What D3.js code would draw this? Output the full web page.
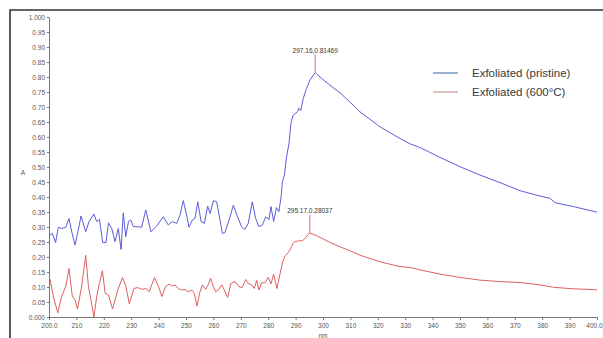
<!DOCTYPE html>
<html>
<head>
<meta charset="utf-8">
<script src="https://cdn.jsdelivr.net/npm/d3@7"></script>
<style>
  body { margin: 0; background: #fff; }
  svg { display: block; }
</style>
</head>
<body>
<div id="chart"></div>
<script>
// wavelength (nm), absorbance (A)
const pristine = [
  [200.0, .270], [200.4, .273], [201.2, .279], [202.4, .248], [203.4, .299], [204.6, .295], [206.1, .299],
  [207.3, .328], [208.3, .284], [209.5, .240], [210.7, .290], [211.7, .337], [213.4, .284], [214.6, .318],
  [216.4, .343], [217.4, .318], [218.4, .326], [219.6, .248], [220.8, .248], [221.7, .314], [222.9, .295],
  [224.1, .251], [225.3, .295], [226.3, .225], [227.1, .347], [228.0, .268], [229.0, .318], [229.9, .323],
  [230.8, .301], [232.4, .301], [233.8, .299], [235.3, .357], [237.2, .284], [239.3, .303], [241.7, .334],
  [243.5, .307], [245.0, .318], [246.6, .312], [247.8, .340], [249.0, .388], [250.2, .340], [251.1, .299],
  [252.3, .323], [253.3, .329], [254.3, .384], [255.5, .318], [256.7, .312], [257.9, .370], [258.8, .345],
  [260.0, .388], [261.2, .384], [262.4, .323], [263.3, .279], [264.2, .281], [265.7, .323], [267.3, .373],
  [268.8, .334], [270.3, .301], [271.5, .292], [272.7, .312], [274.2, .384], [275.4, .329], [276.6, .301],
  [277.9, .307], [279.1, .334], [280.3, .325], [281.0, .368], [282.0, .318], [283.0, .365], [283.9, .351],
  [284.7, .400], [285.2, .451], [285.9, .473], [286.7, .534], [287.6, .579], [288.3, .646], [289.1, .673],
  [290.0, .679], [290.7, .684], [291.2, .696], [291.9, .688], [292.8, .729], [294.0, .762], [295.3, .790],
  [296.5, .807], [297.16, .81469], [299.4, .796], [302.5, .773], [306.5, .745], [311.6, .701], [313.5, .684],
  [320.8, .634], [328.1, .595], [331.8, .577], [335.4, .565], [342.7, .532], [350.0, .501], [357.3, .473],
  [364.6, .448], [371.9, .421], [379.2, .403], [382.8, .396], [384.7, .381], [391.4, .368], [399.3, .351],
  [400.0, .350]
];

const annealed = [
  [200.0, .130], [200.4, .126], [201.6, .068], [203.2, .014], [204.6, .068], [206.1, .101], [207.3, .162],
  [208.5, .070], [209.5, .057], [210.4, .027], [211.9, .101], [213.4, .206], [214.4, .101], [215.3, .057],
  [216.4, .000], [217.4, .068], [218.4, .112], [219.5, .154], [220.5, .079], [221.7, .073], [223.2, .027],
  [225.1, .090], [226.8, .132], [228.0, .105], [229.3, .044], [231.0, .095], [232.4, .098], [234.0, .092],
  [235.5, .095], [236.6, .084], [238.5, .132], [240.0, .101], [241.2, .068], [242.5, .101], [243.8, .110],
  [244.8, .103], [246.0, .107], [247.2, .095], [248.4, .090], [249.6, .092], [250.8, .084], [252.1, .090],
  [253.0, .079], [254.0, .036], [255.1, .084], [256.0, .107], [257.2, .092], [258.2, .109], [259.0, .129],
  [260.0, .101], [260.8, .084], [261.8, .090], [263.0, .107], [264.0, .090], [265.2, .065], [266.4, .112],
  [267.9, .118], [269.3, .101], [270.5, .098], [271.8, .125], [272.7, .112], [274.0, .107], [274.9, .095],
  [275.8, .122], [276.6, .090], [277.6, .114], [278.8, .114], [280.0, .132], [281.0, .110], [282.0, .143],
  [283.2, .095], [284.3, .143], [285.3, .185], [286.3, .206], [287.3, .214], [288.2, .228], [289.0, .245],
  [289.8, .251], [291.0, .254], [292.5, .254], [293.4, .262], [294.4, .273], [295.17, .28037], [297.7, .271],
  [302.0, .251], [306.5, .233], [311.6, .214], [313.5, .206], [320.8, .184], [328.1, .168], [331.8, .165],
  [335.4, .157], [342.7, .143], [350.0, .132], [357.3, .123], [364.6, .118], [371.9, .115], [379.2, .107],
  [384.1, .099], [391.4, .094], [399.3, .091], [400.0, .090]
];

const seriesNames = ['Exfoliated (pristine)', 'Exfoliated (600°C)'];
const peaks = [[297.16, 0.81469], [295.17, 0.28037]];
const xTicks = [200, 210, 220, 230, 240, 250, 260, 270, 280, 290, 300, 310, 320, 330, 340, 350, 360, 370, 380, 390, 400];
const yTicks = [0, .05, .1, .15, .2, .25, .3, .35, .4, .45, .5, .55, .6, .65, .7, .75, .8, .85, .9, .95, 1];

const width = 603, height = 338;
const margin = { top: 17, right: 6, bottom: 21, left: 49 };

const LINE_COLORS = ['#5c5cdc', '#de6060'];
const LEGEND_COLORS = ['#5b80b8', '#c99393'];
const AXIS_COLOR = '#777';
const TICK_TEXT = '#555';

const svg = d3.select('#chart').append('svg')
  .attr('width', width)
  .attr('height', height);

svg.append('rect').attr('width', width).attr('height', height).attr('fill', '#fff');

// outer frame (top + left edges visible)
svg.append('path')
  .attr('d', `M10,${height} L10,10 L${width},10`)
  .attr('fill', 'none')
  .attr('stroke', '#333')
  .attr('stroke-width', 1.6);

const x = d3.scaleLinear().domain([200, 400]).range([margin.left, width - margin.right]);
const y = d3.scaleLinear().domain([0, 1]).range([height - margin.bottom, margin.top]);

// y axis
const yAxis = svg.append('g')
  .attr('transform', `translate(${margin.left},0)`)
  .call(d3.axisLeft(y).tickValues(yTicks).tickSize(2).tickPadding(2)
    .tickFormat(d => (d === 0 || d === 1) ? d3.format('.3f')(d) : d3.format('.2f')(d)));

// x axis
const xAxis = svg.append('g')
  .attr('transform', `translate(0,${height - margin.bottom})`)
  .call(d3.axisBottom(x).tickValues(xTicks).tickSize(3).tickPadding(3)
    .tickFormat(d => (d === 200 || d === 400) ? d3.format('.1f')(d) : d));

[yAxis, xAxis].forEach(g => {
  g.select('.domain').attr('stroke', AXIS_COLOR);
  g.selectAll('.tick line').attr('stroke', AXIS_COLOR);
  g.selectAll('.tick text')
    .attr('fill', TICK_TEXT)
    .attr('font-family', 'Liberation Sans, Arial, sans-serif')
    .attr('font-size', 6.5);
});

// keep the last x label inside the window
xAxis.selectAll('.tick text').filter(d => d === 400).attr('dx', -3);

// axis titles
svg.append('text')
  .attr('x', x(300))
  .attr('y', 338)
  .attr('text-anchor', 'middle')
  .attr('font-family', 'Liberation Sans, Arial, sans-serif')
  .attr('font-size', 6.5)
  .attr('fill', TICK_TEXT)
  .text('nm');

svg.append('text')
  .attr('x', 23)
  .attr('y', 175)
  .attr('text-anchor', 'middle')
  .attr('font-family', 'Liberation Sans, Arial, sans-serif')
  .attr('font-size', 6.5)
  .attr('fill', TICK_TEXT)
  .text('A');

// spectra
const line = d3.line().x(d => x(d[0])).y(d => y(d[1]));

[pristine, annealed].forEach((data, i) => {
  svg.append('path')
    .datum(data)
    .attr('fill', 'none')
    .attr('stroke', LINE_COLORS[i])
    .attr('stroke-width', 1)
    .attr('stroke-linejoin', 'round')
    .attr('d', line);
});

// peak markers
peaks.forEach(p => {
  svg.append('line')
    .attr('x1', x(p[0])).attr('x2', x(p[0]))
    .attr('y1', y(p[1])).attr('y2', y(p[1]) - 18)
    .attr('stroke', '#d88a8a')
    .attr('stroke-width', 1.2);
  svg.append('text')
    .attr('x', x(p[0]))
    .attr('y', y(p[1]) - 20)
    .attr('text-anchor', 'middle')
    .attr('font-family', 'Liberation Sans, Arial, sans-serif')
    .attr('font-size', 6.5)
    .attr('fill', '#333')
    .text(`${p[0].toFixed(2)},${p[1].toFixed(5)}`);
});

// legend
seriesNames.forEach((name, i) => {
  const ly = 73 + i * 19;
  svg.append('line')
    .attr('x1', 433).attr('x2', 458)
    .attr('y1', ly).attr('y2', ly)
    .attr('stroke', LEGEND_COLORS[i])
    .attr('stroke-width', 1.2);
  svg.append('text')
    .attr('x', 472)
    .attr('y', ly + 4)
    .attr('font-family', 'Liberation Sans, Arial, sans-serif')
    .attr('font-size', 11.5)
    .attr('fill', '#3a3a3a')
    .text(name);
});
</script>
</body>
</html>
